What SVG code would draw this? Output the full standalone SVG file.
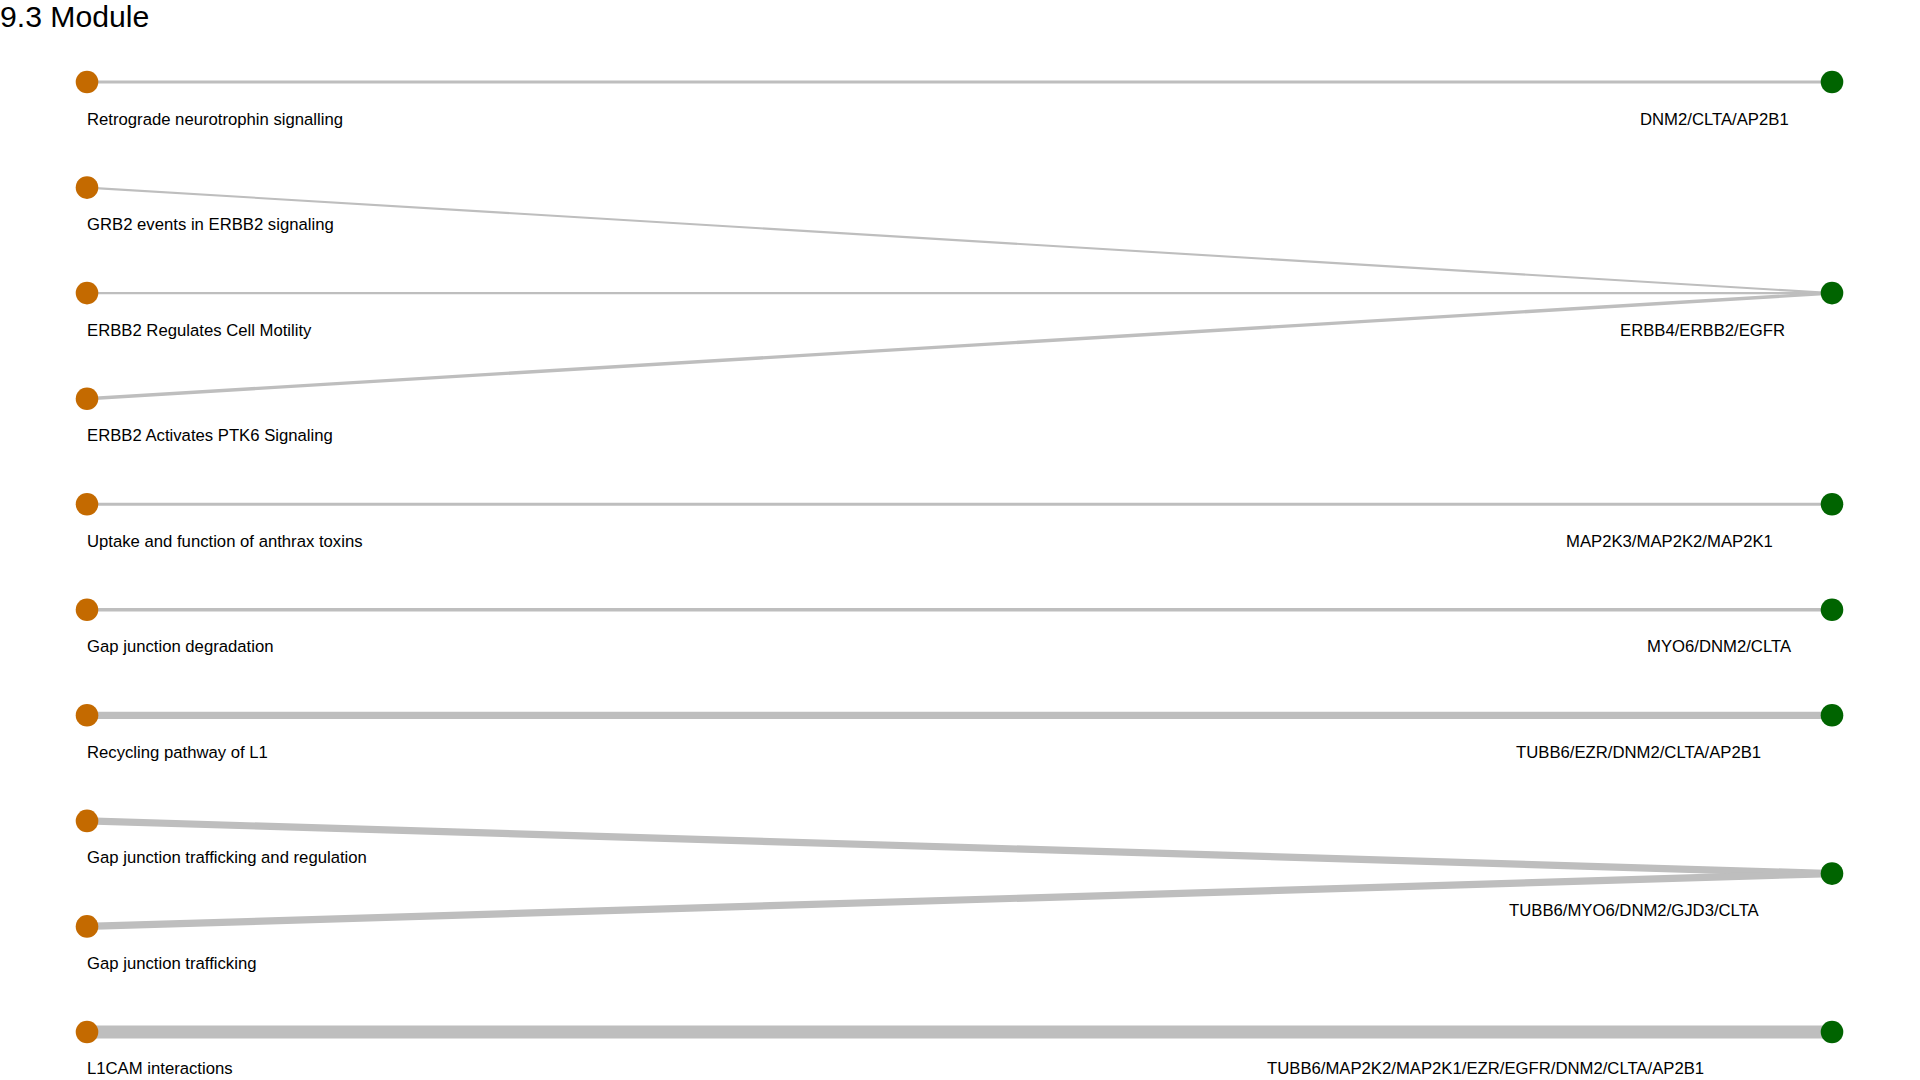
<svg xmlns="http://www.w3.org/2000/svg" width="1920" height="1080" viewBox="0 0 1920 1080">
<style>
.bg{fill:#ffffff}
.title{font-family:"Liberation Sans",Arial,sans-serif;font-size:30.2px;fill:#000}
.lbl{font-family:"Liberation Sans",Arial,sans-serif;font-size:16.7px;fill:#000}
.edge{stroke:#BEBEBE;fill:none;stroke-linecap:butt}
.pw{fill:#C46A00}
.gn{fill:#006400}
</style>
<rect class="bg" x="0" y="0" width="1920" height="1080"/>
<text class="title" x="0" y="27">9.3 Module</text>
<g id="connectors">
<line class="edge" x1="87" y1="82" x2="1832" y2="82" stroke-width="2.8"/>
<line class="edge" x1="87" y1="187.6" x2="1832" y2="293.1" stroke-width="2.1"/>
<line class="edge" x1="87" y1="293.1" x2="1832" y2="293.1" stroke-width="2.4"/>
<line class="edge" x1="87" y1="398.7" x2="1832" y2="293.1" stroke-width="3.4"/>
<line class="edge" x1="87" y1="504.2" x2="1832" y2="504.2" stroke-width="3.1"/>
<line class="edge" x1="87" y1="609.8" x2="1832" y2="609.8" stroke-width="3.6"/>
<line class="edge" x1="87" y1="715.3" x2="1832" y2="715.3" stroke-width="7.2"/>
<line class="edge" x1="87" y1="820.9" x2="1832" y2="873.6" stroke-width="7.2"/>
<line class="edge" x1="87" y1="926.4" x2="1832" y2="873.6" stroke-width="7.2"/>
<line class="edge" x1="87" y1="1032" x2="1832" y2="1032" stroke-width="13"/>
</g>
<g id="p1"><circle class="pw" cx="87" cy="82" r="11.3"/><text class="lbl" x="87" y="124.5">Retrograde neurotrophin signalling</text></g>
<g id="p2"><circle class="pw" cx="87" cy="187.6" r="11.3"/><text class="lbl" x="87" y="230">GRB2 events in ERBB2 signaling</text></g>
<g id="p3"><circle class="pw" cx="87" cy="293.1" r="11.3"/><text class="lbl" x="87" y="335.5">ERBB2 Regulates Cell Motility</text></g>
<g id="p4"><circle class="pw" cx="87" cy="398.7" r="11.3"/><text class="lbl" x="87" y="441">ERBB2 Activates PTK6 Signaling</text></g>
<g id="p5"><circle class="pw" cx="87" cy="504.2" r="11.3"/><text class="lbl" x="87" y="546.5">Uptake and function of anthrax toxins</text></g>
<g id="p6"><circle class="pw" cx="87" cy="609.8" r="11.3"/><text class="lbl" x="87" y="652">Gap junction degradation</text></g>
<g id="p7"><circle class="pw" cx="87" cy="715.3" r="11.3"/><text class="lbl" x="87" y="757.5">Recycling pathway of L1</text></g>
<g id="p8"><circle class="pw" cx="87" cy="820.9" r="11.3"/><text class="lbl" x="87" y="863">Gap junction trafficking and regulation</text></g>
<g id="p9"><circle class="pw" cx="87" cy="926.4" r="11.3"/><text class="lbl" x="87" y="968.5">Gap junction trafficking</text></g>
<g id="p10"><circle class="pw" cx="87" cy="1032" r="11.3"/><text class="lbl" x="87" y="1074">L1CAM interactions</text></g>
<g id="g1"><circle class="gn" cx="1832" cy="82" r="11.3"/><text class="lbl" x="1640" y="124.5">DNM2/CLTA/AP2B1</text></g>
<g id="g2"><circle class="gn" cx="1832" cy="293.1" r="11.3"/><text class="lbl" x="1620" y="335.5">ERBB4/ERBB2/EGFR</text></g>
<g id="g3"><circle class="gn" cx="1832" cy="504.2" r="11.3"/><text class="lbl" x="1566" y="546.5">MAP2K3/MAP2K2/MAP2K1</text></g>
<g id="g4"><circle class="gn" cx="1832" cy="609.8" r="11.3"/><text class="lbl" x="1647" y="652">MYO6/DNM2/CLTA</text></g>
<g id="g5"><circle class="gn" cx="1832" cy="715.3" r="11.3"/><text class="lbl" x="1516" y="757.5">TUBB6/EZR/DNM2/CLTA/AP2B1</text></g>
<g id="g6"><circle class="gn" cx="1832" cy="873.6" r="11.3"/><text class="lbl" x="1509" y="916">TUBB6/MYO6/DNM2/GJD3/CLTA</text></g>
<g id="g7"><circle class="gn" cx="1832" cy="1032" r="11.3"/><text class="lbl" x="1267" y="1074">TUBB6/MAP2K2/MAP2K1/EZR/EGFR/DNM2/CLTA/AP2B1</text></g>
</svg>
